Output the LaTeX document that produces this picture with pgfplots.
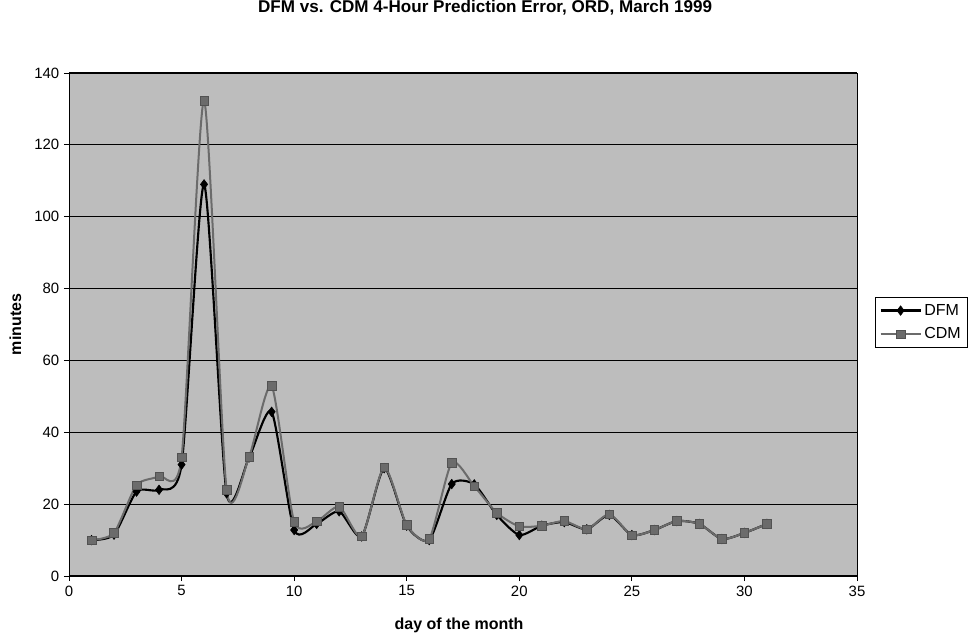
\documentclass[border=0pt]{standalone}
\usepackage{pgfplots}
\pgfplotsset{compat=1.18}
\usepackage{fontspec}
\setmainfont{Liberation Sans}
\pgfplotstableread{
day dfm cdm
1 10 10
2 11.5 12
3 23.5 25.3
4 24 27.8
5 31 33
6 109 132.3
7 23 24
8 33 33.2
9 45.7 52.9
10 12.8 15.1
11 14.5 15.2
12 18 19.3
13 11 11
14 30 30.3
15 14 14.2
16 10 10.3
17 25.6 31.5
18 25.5 25
19 17 17.6
20 11.4 13.8
21 14 14
22 15 15.3
23 13 13
24 17 17.2
25 11.4 11.4
26 12.8 12.8
27 15.3 15.3
28 14.5 14.5
29 10.3 10.3
30 12 12
31 14.5 14.5
}\datatable
\begin{document}
\begin{tikzpicture}
\useasboundingbox (-51.75pt,-45pt) rectangle (676.5pt,432pt);
\begin{axis}[
  at={(0,0)}, anchor=south west,
  scale only axis,
  width=591pt, height=377.25pt,
  xmin=0, xmax=35, ymin=0, ymax=140,
  xtick distance=5, ytick distance=20,
  tick align=outside, xtick pos=left, ytick pos=left,
  major tick length=3.75pt,
  tick style={black, line width=0.6pt},
  axis background/.style={fill=black!26},
  axis line style={black, line width=0.7pt},
  ymajorgrids, grid style={black, line width=0.8pt},
  /pgf/number format/assume math mode=true,
  tick label style={font=\fontsize{11.2}{13}\selectfont},
  title={DFM vs. CDM 4-Hour Prediction Error, ORD, March 1999},
  title style={font=\bfseries\fontsize{12.8}{14}\selectfont, at={(axis description cs:0.528,1.115)}, anchor=center},
  xlabel={day of the month},
  xlabel style={font=\bfseries\fontsize{12}{14}\selectfont, at={(axis description cs:0.495,-0.0974)}, anchor=center},
  ylabel={minutes},
  ylabel style={font=\bfseries\fontsize{12}{14}\selectfont, at={(axis description cs:-0.068,0.5)}, anchor=center},
  legend style={at={(axis description cs:1.023,0.5547)}, anchor=north west,
    draw=black, line width=0.6pt, fill=white, font=\fontsize{12}{14}\selectfont,
    row sep=4pt, inner sep=3pt},
  legend cell align=left,
  legend image code/.code={\draw[mark repeat=2,mark phase=2,#1] plot coordinates {(0pt,0pt) (15pt,0pt) (30pt,0pt)};},
]
\addplot[smooth, tension=0.4, black, line width=1.6pt, mark=diamond*, mark size=3.6pt, mark options={solid, fill=black, line width=0.4pt}] table[x=day, y=dfm] {\datatable};
\addlegendentry{DFM}
\addplot[smooth, tension=0.4, black!58, line width=1.5pt, mark=square*, mark size=3.2pt, mark options={solid, fill=black!58, draw=black!68, line width=0.4pt}] table[x=day, y=cdm] {\datatable};
\addlegendentry{CDM}
\end{axis}
\end{tikzpicture}
\end{document}
